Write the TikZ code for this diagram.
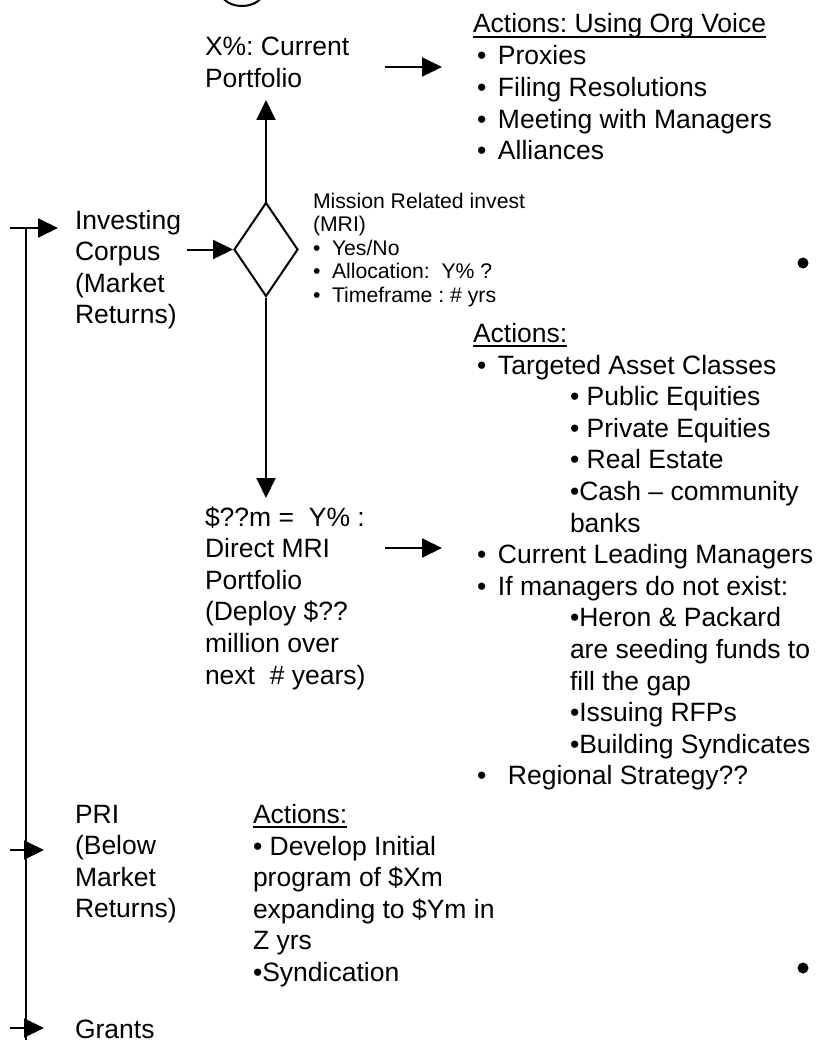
\documentclass[tikz,border=0pt]{standalone}
\usepackage{fontspec}
\setmainfont{Liberation Sans}
\usetikzlibrary{arrows.meta,shapes.geometric}
\frenchspacing
% stacked lines, first baseline at the node's base anchor
\newcommand\txtlines[1]{\begin{tabular}[t]{@{}l@{}}#1\end{tabular}}
\newcommand\bl{\makebox[21pt][l]{•}}
\newcommand\sbl{\makebox[19pt][l]{•}}
\newcommand\ind{\hspace*{93pt}}
\tikzset{
  txt/.style={anchor=base west, inner sep=0pt, outer sep=0pt,
              font=\fontsize{26.5}{31.6}\selectfont},
  small/.style={anchor=base west, inner sep=0pt, outer sep=0pt,
              font=\fontsize{21.2}{23.5}\selectfont},
  ln/.style={line width=2pt},
  arr/.style={line width=2pt, -{Triangle[length=20pt,width=19pt]}},
  ul/.style={line width=1.7pt},
  dot/.style={circle, fill=black, inner sep=0pt, minimum size=11pt},
  decision/.style={diamond, draw, line width=2pt, inner sep=0pt,
              minimum width=64pt, minimum height=94pt, aspect=0.68},
}
\begin{document}
\begin{tikzpicture}[x=1pt,y=-1pt]
\useasboundingbox (0,0) rectangle (818,1043);
\fill[white] (0,0) rectangle (818,1043);

% circle cut by the top edge
\begin{scope}
  \clip (0,0) rectangle (818,1043);
  \draw[ln] (242,-8) ellipse [x radius=21, y radius=14];
\end{scope}

% left column
\node[txt] (inv) at (75,229) {\txtlines{Investing\\Corpus\\(Market\\Returns)}};
\node[txt] (pri) at (75,823) {\txtlines{PRI\\(Below\\Market\\Returns)}};
\node[txt] (gr)  at (75,1038) {Grants};

% decision
\node[decision] (dec) at (266,249.5) {};
\node[small] (mri) at (313,208) {\txtlines{Mission Related invest\\(MRI)\\\sbl Yes/No\\\sbl Allocation:\ \ Y\% ?\\\sbl Timeframe : \# yrs}};

% portfolios
\node[txt] (cur) at (205,56) {\txtlines{X\%: Current\\Portfolio}};
\node[txt] (dmri) at (205,526) {\txtlines{\$??m =\ \ Y\% :\\Direct MRI\\Portfolio\\(Deploy \$??\\million over\\next\ \ \# years)}};

% voice actions
\node[txt] (act1h) at (473,33) {Actions: Using Org Voice};
\node[txt] (act1) at (477,65) {\txtlines{\bl Proxies\\\bl Filing Resolutions\\\bl Meeting with Managers\\\bl Alliances}};

% MRI actions
\node[txt] (act2h) at (473,342) {Actions:};
\node[txt] (act2) at (477,374) {\txtlines{%
  \bl Targeted Asset Classes\\
  \ind• Public Equities\\
  \ind• Private Equities\\
  \ind• Real Estate\\
  \ind•Cash \textendash\ community\\
  \ind banks\\
  \bl Current Leading Managers\\
  \bl If managers do not exist:\\
  \ind•Heron \& Packard\\
  \ind are seeding funds to\\
  \ind fill the gap\\
  \ind•Issuing RFPs\\
  \ind•Building Syndicates\\
  \makebox[31pt][l]{•}Regional Strategy??}};

% PRI actions
\node[txt] (act3h) at (253,823) {Actions:};
\node[txt] (act3) at (253,855) {\txtlines{• Develop Initial\\program of \$Xm\\expanding to \$Ym in\\Z yrs\\•Syndication}};

% stray bullets
\node[dot] (d1) at (803,263) {};
\node[dot] (d2) at (803,968) {};

% underlines
\foreach \n in {act1h,act2h,act3h}
  \draw[ul] ([yshift=-4pt]\n.base west) -- ([yshift=-4pt]\n.base east);

% connector ends
\coordinate (busTop) at (26,228);
\coordinate (busEnd) at (26,1040);
\coordinate (invIn) at (58,228);
\coordinate (priIn) at (44,850);
\coordinate (grIn) at (44,1028);
\coordinate (curIn) at (266,100);
\coordinate (dmriIn) at (266,498);
\coordinate (vOut) at (385,67);
\coordinate (vIn) at (442,67);
\coordinate (mOut) at (385,548);
\coordinate (mIn) at (442,548);

% bus on the left
\draw[ln] (busTop) -- (busEnd);
\draw[arr] ([xshift=-16pt]busTop) -- (invIn);
\draw[arr] ([xshift=-16pt]busTop |- priIn) -- (priIn);
\draw[arr] ([xshift=-16pt]busTop |- grIn) -- (grIn);

% flow through the decision
\draw[arr, shorten <=6pt] (inv.east |- dec.west) -- (dec.west);
\draw[arr] (dec.north) -- (curIn);
\draw[arr] (dec.south) -- (dmriIn);
\draw[arr] (vOut) -- (vIn);
\draw[arr] (mOut) -- (mIn);
\end{tikzpicture}
\end{document}
